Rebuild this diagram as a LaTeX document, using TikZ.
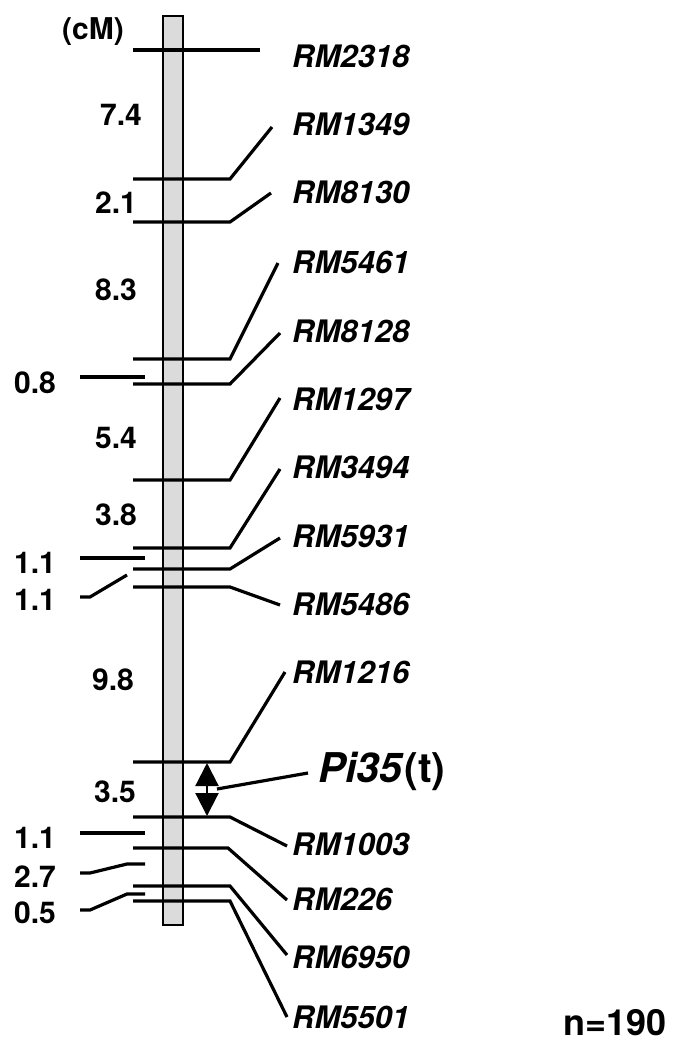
\documentclass[tikz,border=0pt]{standalone}
\usepackage{fontspec}
\setmainfont{texgyreheros}[Extension=.otf, UprightFont=*-regular, BoldFont=*-bold, ItalicFont=*-italic, BoldItalicFont=*-bolditalic]
\usetikzlibrary{arrows.meta}
\begin{document}
\begin{tikzpicture}[x=1pt,y=-1pt,
  mk/.style={line width=3.2pt, line join=miter},
  bar/.style={draw=black, fill=black!14, line width=2pt},
  lbl/.style={font=\fontsize{31}{31}\selectfont\bfseries\itshape, anchor=base west, inner sep=0pt},
  num/.style={font=\fontsize{30}{30}\selectfont\bfseries, anchor=base west, inner sep=0pt},
  big/.style={font=\fontsize{41}{41}\selectfont\bfseries, anchor=base west, inner sep=0pt},
  dbl/.style={line width=2.2pt, {Triangle[length=23pt,width=23pt]}-{Triangle[length=23pt,width=23pt]}},
]
\useasboundingbox (0,0) rectangle (681,1041);
% chromosome bar
\node[bar, minimum width=20pt, minimum height=909pt, inner sep=0pt, anchor=north west] (chr) at (162,15) {};

% marker labels
\node[lbl] (l1) at (292,67) {RM2318};
\node[lbl] (l2) at (292,135) {RM1349};
\node[lbl] (l3) at (292,203) {RM8130};
\node[lbl] (l4) at (292,273) {RM5461};
\node[lbl] (l5) at (292,342) {RM8128};
\node[lbl] (l6) at (292,410) {RM1297};
\node[lbl] (l7) at (292,478) {RM3494};
\node[lbl] (l8) at (292,547) {RM5931};
\node[lbl] (l9) at (292,615) {RM5486};
\node[lbl] (l10) at (292,683) {RM1216};
\node[lbl] (l11) at (292,855) {RM1003};
\node[lbl] (l12) at (292,910) {RM226};
\node[lbl] (l13) at (292,968) {RM6950};
\node[lbl] (l14) at (292,1028) {RM5501};

% marker line coordinates: a = left end, b = bend, c = free end near label
\coordinate (a1) at (133,50);  \coordinate (c1) at (260,50);
\coordinate (a2) at (133,179); \coordinate (b2) at (230,179); \coordinate (c2) at (272,127);
\coordinate (a3) at (133,222); \coordinate (b3) at (230,222); \coordinate (c3) at (271,193);
\coordinate (a4) at (133,359); \coordinate (b4) at (230,359); \coordinate (c4) at (278,263);
\coordinate (a5) at (133,384); \coordinate (b5) at (230,384); \coordinate (c5) at (280,333);
\coordinate (a6) at (133,480); \coordinate (b6) at (230,480); \coordinate (c6) at (280,398);
\coordinate (a7) at (133,548); \coordinate (b7) at (230,548); \coordinate (c7) at (280,469);
\coordinate (a8) at (133,569); \coordinate (b8) at (230,569); \coordinate (c8) at (280,538);
\coordinate (a9) at (133,587); \coordinate (b9) at (230,587); \coordinate (c9) at (280,605);
\coordinate (a10) at (133,762); \coordinate (b10) at (230,762); \coordinate (c10) at (285,672);
\coordinate (a11) at (133,817); \coordinate (b11) at (230,817); \coordinate (c11) at (287,846);
\coordinate (a12) at (133,848); \coordinate (b12) at (228,848); \coordinate (c12) at (287,900);
\coordinate (a13) at (133,886); \coordinate (b13) at (230,886); \coordinate (c13) at (287,955);
\coordinate (a14) at (133,901); \coordinate (b14) at (230,901); \coordinate (c14) at (287,1017);

\draw[mk] (a1) -- (c1);
\foreach \i in {2,...,14} { \draw[mk] (a\i) -- (b\i) -- (c\i); }

% interval labels
\node[num] (cm) at (62,40) {(cM)};
\node[num] (d1) at (100,125) {7.4};
\node[num] (d2) at (95,213) {2.1};
\node[num] (d3) at (95,300) {8.3};
\node[num] (d4) at (14,393) {0.8};
\node[num] (d5) at (95,448) {5.4};
\node[num] (d6) at (95,525) {3.8};
\node[num] (d7) at (14,573) {1.1};
\node[num] (d8) at (14,610) {1.1};
\node[num] (d9) at (92,690) {9.8};
\node[num] (d10) at (94,802) {3.5};
\node[num] (d11) at (14,848) {1.1};
\node[num] (d12) at (14,887) {2.7};
\node[num] (d13) at (14,923) {0.5};

% interval ticks
\coordinate (t4a) at (80,377); \coordinate (t4b) at (145,377);
\coordinate (t7a) at (80,558); \coordinate (t7b) at (145,558);
\coordinate (t8a) at (80,597); \coordinate (t8b) at (90,597); \coordinate (t8c) at (127,575);
\coordinate (t11a) at (80,833); \coordinate (t11b) at (145,833);
\coordinate (t12a) at (80,873); \coordinate (t12b) at (90,873); \coordinate (t12c) at (127,864); \coordinate (t12d) at (145,864);
\coordinate (t13a) at (80,910); \coordinate (t13b) at (90,910); \coordinate (t13c) at (127,894); \coordinate (t13d) at (145,894);
\draw[mk] (t4a) -- (t4b);
\draw[mk] (t7a) -- (t7b);
\draw[mk] (t8a) -- (t8b) -- (t8c);
\draw[mk] (t11a) -- (t11b);
\draw[mk] (t12a) -- (t12b) -- (t12c) -- (t12d);
\draw[mk] (t13a) -- (t13b) -- (t13c) -- (t13d);

% Pi35 locus
\coordinate (up) at (207,763);
\coordinate (dn) at (207,816);
\draw[dbl] (up) -- (dn);
\node[big] (pi) at (318,782) {\textit{Pi35}(t)};
\coordinate (pa) at (217,789);
\coordinate (pb) at (308,773);
\draw[mk] (pa) -- (pb);

\node[num, font=\fontsize{36}{36}\selectfont\bfseries] (n) at (563,1035) {n=190};
\end{tikzpicture}
\end{document}
